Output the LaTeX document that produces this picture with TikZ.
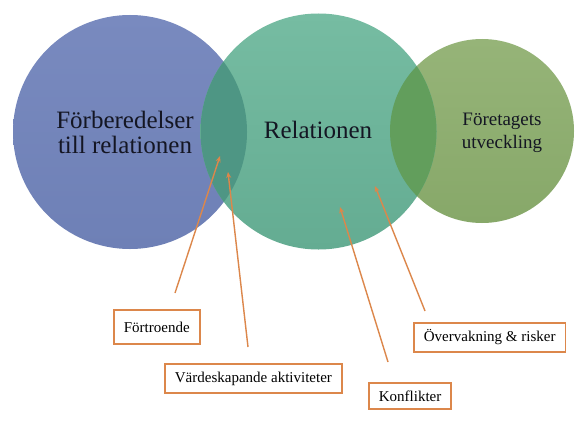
\documentclass[tikz,border=0pt]{standalone}
\usepackage{fontspec}
\setmainfont{Liberation Serif}
\usetikzlibrary{arrows.meta}
\definecolor{cblue}{RGB}{121,138,191}
\definecolor{cblueb}{RGB}{110,128,182}
\definecolor{cteal}{RGB}{118,188,162}
\definecolor{ctealb}{RGB}{100,172,146}
\definecolor{cgreen}{RGB}{150,180,120}
\definecolor{cgreenb}{RGB}{135,168,105}
\definecolor{clensl}{RGB}{78,150,132}
\definecolor{clensr}{RGB}{98,158,92}
\definecolor{corange}{RGB}{220,135,75}
\definecolor{ctext}{RGB}{20,22,35}
\tikzset{
  lbl/.style={draw=corange, line width=1.8pt, fill=white, inner xsep=10pt, inner ysep=0pt, font=\fontsize{15}{17}\selectfont, text=black, anchor=north west},
  arr/.style={draw=corange, line width=1.4pt, -{Stealth[length=6pt,width=5pt]}},
  big/.style={font=\fontsize{25}{25}\selectfont, text=ctext, align=center},
}
\begin{document}
\begin{tikzpicture}[x=1pt,y=-1pt]
\useasboundingbox (0,0) rectangle (585,428);
\fill[white] (0,0) rectangle (585,428);
% circles
\shade[top color=cblue, bottom color=cblueb] (130,132) circle (117);
\shade[top color=cgreen, bottom color=cgreenb] (482,131) circle (92);
\shade[top color=cteal, bottom color=ctealb] (318.5,131.5) circle (118);
\begin{scope}
  \clip (130,132) circle (117);
  \fill[clensl] (318.5,131.5) circle (118);
\end{scope}
\begin{scope}
  \clip (482,131) circle (92);
  \fill[clensr] (318.5,131.5) circle (118);
\end{scope}
% circle texts
\node[big] (prep) at (125,132) {Förberedelser\\till relationen};
\node[big] (rel) at (318,130) {Relationen};
\node[font=\fontsize{19}{23}\selectfont, text=ctext, align=center] (dev) at (502,133) {Företagets\\utveckling};
% boxes
\node[lbl, minimum height=34pt] (b1) at (113,309) {Förtroende};
\node[lbl, minimum height=29pt] (b2) at (164,363) {Värdeskapande aktiviteter};
\node[lbl, minimum height=26pt] (b3) at (368,382) {Konflikter};
\node[lbl, minimum height=29pt] (b4) at (413,322) {Övervakning \& risker};
% arrows
\coordinate (s1) at (175,293); \coordinate (t1) at (220,156);
\coordinate (s2) at (248,347); \coordinate (t2) at (228,172);
\coordinate (s3) at (388,362); \coordinate (t3) at (340,207);
\coordinate (s4) at (425,311); \coordinate (t4) at (375,186);
\draw[arr] (s1) -- (t1);
\draw[arr] (s2) -- (t2);
\draw[arr] (s3) -- (t3);
\draw[arr] (s4) -- (t4);
\end{tikzpicture}
\end{document}
